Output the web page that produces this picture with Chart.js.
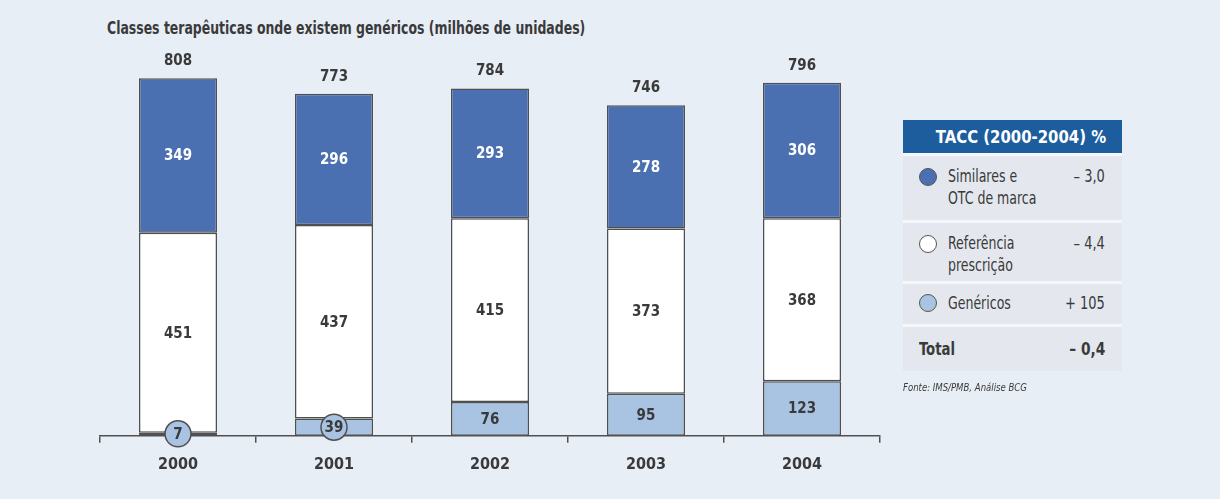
<!DOCTYPE html>
<html>
<head>
<meta charset="utf-8">
<script src="https://cdn.jsdelivr.net/npm/chart.js@4.4.1/dist/chart.umd.min.js"></script>
<style>
  html, body { margin: 0; padding: 0; }
  body {
    width: 1220px; height: 499px; overflow: hidden; position: relative;
    background: #e8eef6;
    font-family: "Liberation Sans Narrow", "DejaVu Sans Condensed", sans-serif;
    color: #3a3a3a;
  }
  #title { position: absolute; left: 107px; top: 18px; font-size: 17px; font-weight: bold; color: #3a3a3a;
           white-space: nowrap; transform: scaleX(0.815); transform-origin: left center; }
  #wrap { position: absolute; left: 0; top: 0; width: 1220px; height: 499px; }
  #tacc { position: absolute; left: 903px; top: 120px; width: 219px; background: #e4e8ee; }
  #tacc .head { background: #1e5d9d; color: #fff; font-weight: bold; font-size: 18px; height: 33px; line-height: 34px;
                text-align: right; padding-right: 16px; }
  #tacc .head span { display: inline-block; transform: scaleX(0.92); transform-origin: right center; }
  #tacc .row { position: relative; border-top: 3px solid #f4f6f9; font-size: 17px; line-height: 22px; }
  #tacc .dot { position: absolute; left: 16px; width: 16px; height: 16px; border-radius: 50%; border: 1.5px solid #555; }
  #tacc .name { position: absolute; left: 45px; white-space: nowrap; transform: scaleX(0.82); transform-origin: left top; }
  #tacc .val { position: absolute; right: 17px; white-space: nowrap; transform: scaleX(0.85); transform-origin: right top; }
  #src { position: absolute; left: 903px; top: 382px; font-size: 10px; font-style: italic; color: #3a3a3a;
         white-space: nowrap; transform: scaleX(0.95); transform-origin: left center; }
</style>
</head>
<body>
<div id="title">Classes terapêuticas onde existem genéricos (milhões de unidades)</div>
<div id="wrap"><canvas id="chart" width="1220" height="499"></canvas></div>
<div id="tacc"></div>
<div id="src">Fonte: IMS/PMB, Análise BCG</div>
<script>
const years = ['2000', '2001', '2002', '2003', '2004'];
const genericos = [7, 39, 76, 95, 123];
const referencia = [451, 437, 415, 373, 368];
const similares = [349, 296, 293, 278, 306];
const totals = [808, 773, 784, 746, 796];

const seriesNames = ['Similares e<br>OTC de marca', 'Referência<br>prescrição', 'Genéricos'];
const taccValues = ['\u2013 3,0', '\u2013 4,4', '+ 105'];
const taccTotal = '\u2013 0,4';

const darkBlue = '#4b70b2';
const lightBlue = '#a9c3e2';
const edge = '#505050';
const textColor = '#3a3a3a';
const fontFamily = '"Liberation Sans Narrow", "DejaVu Sans Condensed", sans-serif';

// legend table
const table = document.getElementById('tacc');
const dotColors = [darkBlue, '#ffffff', lightBlue];
const rowHeights = [64, 58, 40];
let html = '<div class="head"><span>TACC (2000-2004) %</span></div>';
seriesNames.forEach((name, i) => {
    const h = rowHeights[i];
    const dotTop = i === 2 ? 10 : 12;
    html += `<div class="row" style="height:${h}px">
        <div class="dot" style="top:${dotTop}px;background:${dotColors[i]}"></div>
        <div class="name" style="top:${i === 2 ? 8 : 9}px">${name}</div>
        <div class="val" style="top:${i === 2 ? 8 : 9}px">${taccValues[i]}</div></div>`;
});
html += `<div class="row" style="height:44px;font-weight:bold;font-size:18px">
    <div class="name" style="left:16px;top:11px">Total</div>
    <div class="val" style="top:11px">${taccTotal}</div></div>`;
table.innerHTML = html;

const labelPlugin = {
    id: 'barLabels',
    afterDatasetsDraw(chart) {
        const ctx = chart.ctx;
        ctx.save();
        ctx.textAlign = 'center';
        ctx.textBaseline = 'middle';
        ctx.font = 'bold 15px ' + fontFamily;
        chart.data.datasets.forEach((ds, i) => {
            const meta = chart.getDatasetMeta(i);
            meta.data.forEach((bar, j) => {
                const v = ds.data[j];
                let y = (bar.y + bar.base) / 2;
                if (v < 50) {
                    y = Math.min(y, bar.base - 2);
                    ctx.beginPath();
                    ctx.arc(bar.x, y, 13, 0, Math.PI * 2);
                    ctx.fillStyle = lightBlue;
                    ctx.fill();
                    ctx.lineWidth = 1.5;
                    ctx.strokeStyle = edge;
                    ctx.stroke();
                }
                ctx.fillStyle = i === 2 ? '#ffffff' : textColor;
                ctx.fillText(String(v), bar.x, y + 1);
            });
        });
        const topMeta = chart.getDatasetMeta(chart.data.datasets.length - 1);
        ctx.fillStyle = textColor;
        topMeta.data.forEach((bar, j) => {
            ctx.fillText(String(totals[j]), bar.x, bar.y - 17);
        });
        ctx.restore();
    }
};

new Chart(document.getElementById('chart'), {
    type: 'bar',
    data: {
        labels: years,
        datasets: [
            { label: 'Genéricos', data: genericos, backgroundColor: lightBlue },
            { label: 'Referência prescrição', data: referencia, backgroundColor: '#ffffff' },
            { label: 'Similares e OTC de marca', data: similares, backgroundColor: darkBlue }
        ].map(d => Object.assign(d, {
            borderColor: edge,
            borderWidth: 1.5,
            borderSkipped: false,
            categoryPercentage: 1,
            barPercentage: 0.5
        }))
    },
    options: {
        responsive: false,
        animation: false,
        devicePixelRatio: 1,
        layout: { padding: { left: 100, right: 340, top: 37, bottom: 13 } },
        plugins: { legend: { display: false }, tooltip: { enabled: false } },
        scales: {
            x: {
                stacked: true,
                border: { display: true, color: edge, width: 1.5 },
                grid: { display: true, drawOnChartArea: false, drawTicks: true, tickLength: 7, color: edge, lineWidth: 1.5 },
                ticks: { color: textColor, font: { family: fontFamily, size: 16, weight: 'bold' }, padding: 12 }
            },
            y: {
                stacked: true,
                display: false,
                min: 0,
                max: 900
            }
        }
    },
    plugins: [labelPlugin]
});
</script>
</body>
</html>
